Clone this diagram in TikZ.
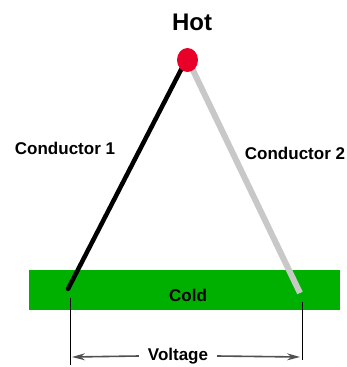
\documentclass[tikz,border=0pt]{standalone}
\usepackage{fontspec}
\setmainfont{Liberation Sans}
\usepackage{tikz}
\usetikzlibrary{arrows.meta,shapes.geometric}
\definecolor{coldgreen}{RGB}{0,176,0}
\definecolor{hotred}{RGB}{232,0,40}
\definecolor{wiregray}{RGB}{200,200,200}
\definecolor{dimgray}{RGB}{80,80,80}

\begin{document}
\begin{tikzpicture}[x=1pt,y=-1pt,font=\fontsize{17}{20}\selectfont\bfseries]
  \useasboundingbox (0,0) rectangle (347,367);
  \fill[coldgreen] (29,270) rectangle (340,310);
  \node (cold) at (188,295) {Cold};
  \coordinate (end1) at (68,289);
  \coordinate (end2) at (300,293);
  \draw[line width=4.5pt,line cap=round] (end1)--(185,62);
  \draw[wiregray,line width=6pt] (end2)--(189,62);
  \node[fill=hotred,ellipse,minimum width=21pt,minimum height=24pt,inner sep=0pt] (hot) at (187.5,60) {};
  \node[font=\fontsize{24}{28}\selectfont\bfseries] (hotlab) at (192,22) {Hot};
  \node (lab1) at (65,148) {Conductor 1};
  \node (lab2) at (295,153) {Conductor 2};
  \draw[line width=0.8pt] (70,298) coordinate (v1)--(70,365);
  \draw[line width=0.8pt] (302,302) coordinate (v2)--(302,360);
  \node[inner sep=0pt,minimum width=78pt] (volt) at (178,356) {Voltage};
  \draw[dimgray,line width=1.6pt,-{Stealth[length=13pt,width=7pt]}] (volt.west)--(72,357);
  \draw[dimgray,line width=1.6pt,-{Stealth[length=13pt,width=7pt]}] (volt.east)--(300,357);
\end{tikzpicture}
\end{document}
